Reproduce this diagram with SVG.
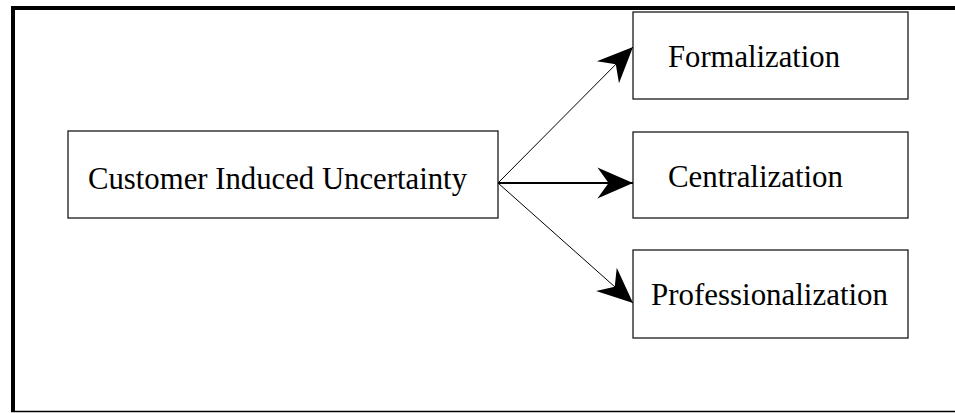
<svg xmlns="http://www.w3.org/2000/svg" width="955" height="413" viewBox="0 0 955 413">
<style>
.box{fill:#fff;stroke:#1a1a1a;stroke-width:1.3}
.lbl{font-family:"Liberation Serif","Times New Roman",serif;font-size:32px;fill:#000}
.conn{stroke:#000;fill:none}
</style>
<defs>
<marker id="ah" markerUnits="userSpaceOnUse" markerWidth="40" markerHeight="40" viewBox="-34 -16 36 32" refX="0" refY="0" orient="auto">
<path d="M0,0 L-32,-14 L-22,0 L-32,14 Z" fill="#000"/>
</marker>
</defs>
<rect width="955" height="413" fill="#fff"/>
<g id="frame">
<line x1="11" y1="8" x2="955" y2="8" stroke="#000" stroke-width="4"/>
<line x1="13" y1="6" x2="13" y2="412" stroke="#000" stroke-width="4"/>
<line x1="11" y1="411.5" x2="955" y2="411.5" stroke="#000" stroke-width="1.5"/>
</g>
<g id="customer">
<rect class="box" x="68" y="131" width="430" height="87"/>
<text class="lbl" x="88" y="189" textLength="379" lengthAdjust="spacingAndGlyphs">Customer Induced Uncertainty</text>
</g>
<g id="formalization">
<rect class="box" x="633" y="12" width="275" height="87"/>
<text class="lbl" x="668" y="67" textLength="172" lengthAdjust="spacingAndGlyphs">Formalization</text>
</g>
<g id="centralization">
<rect class="box" x="633" y="132" width="275" height="86"/>
<text class="lbl" x="668" y="187" textLength="175" lengthAdjust="spacingAndGlyphs">Centralization</text>
</g>
<g id="professionalization">
<rect class="box" x="633" y="250" width="275" height="88"/>
<text class="lbl" x="651" y="305" textLength="237" lengthAdjust="spacingAndGlyphs">Professionalization</text>
</g>
<g id="connectors">
<line class="conn" x1="498" y1="183" x2="633" y2="47" stroke-width="1" marker-end="url(#ah)"/>
<line class="conn" x1="498" y1="183" x2="633" y2="183" stroke-width="2" marker-end="url(#ah)"/>
<line class="conn" x1="498" y1="183" x2="633" y2="303" stroke-width="1" marker-end="url(#ah)"/>
</g>
</svg>
